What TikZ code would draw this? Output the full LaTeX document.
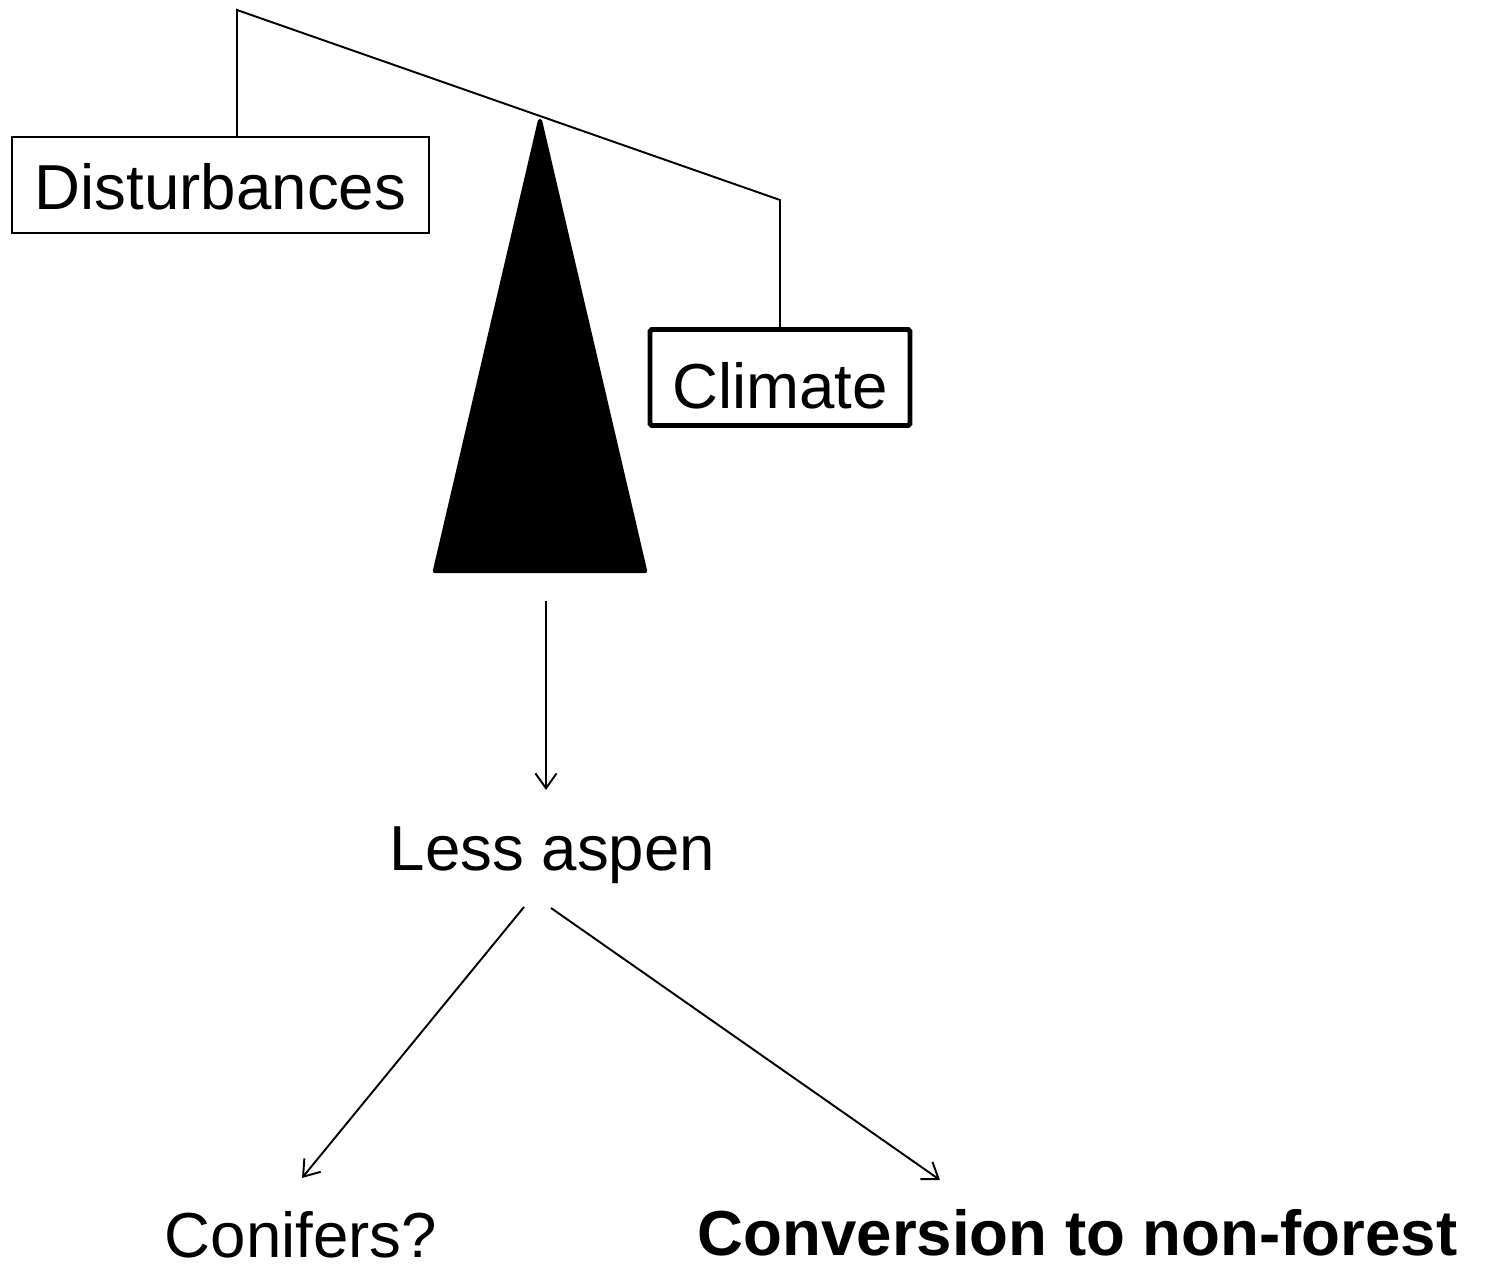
\documentclass[tikz,border=0pt]{standalone}
\usepackage{fontspec}
\setmainfont{Liberation Sans}
\usetikzlibrary{arrows.meta}
\begin{document}
\begin{tikzpicture}[x=0.02cm,y=-0.02cm,
  txt/.style={font=\fontsize{36.2}{43}\selectfont, inner sep=0pt},
  thinline/.style={line width=1.1pt},
  arr/.style={line width=1.1pt, -{Straight Barb[length=8.5pt,width=12pt,line width=1.1pt]}},
  distbox/.style={txt, draw, line width=1.1pt, minimum width=8.34cm, minimum height=1.92cm, text height=28pt, text depth=0pt},
  climbox/.style={txt, draw, line width=2.8pt, rounded corners=1pt, minimum width=5.2cm, minimum height=1.92cm, text height=35pt, text depth=0pt}]
\useasboundingbox (0,0) rectangle (1488,1267);
% boxes
\node[distbox] (dist) at (220.5,185) {Disturbances};
\node[climbox] (clim) at (780,377.5) {Climate};
% beam
\coordinate (b1) at (237,10);
\coordinate (b2) at (780,200);
\draw[thinline, line join=miter] (dist.north -| b1) -- (b1) -- (b2) -- (clim.north);
% fulcrum triangle
\coordinate (t1) at (540,121);
\coordinate (t2) at (645,571);
\coordinate (t3) at (435,571);
\filldraw[line width=2.5pt, line join=round] (t1) -- (t2) -- (t3) -- cycle;
% texts
\node[txt, anchor=base] (less) at (552.5,870) {Less aspen};
\node[txt, anchor=base] (conif) at (301,1257) {Conifers?};
\node[txt, anchor=base, font=\fontsize{36.2}{43}\selectfont\bfseries] (conv) at (1077.5,1255) {Conversion to non-forest};
% arrows
\coordinate (a1s) at (546,601);
\coordinate (a1e) at (546,790);
\draw[arr] (a1s) -- (a1e);
\coordinate (a2s) at (524,907);
\coordinate (a2e) at (302,1178);
\draw[arr] (a2s) -- (a2e);
\coordinate (a3s) at (551,908);
\coordinate (a3e) at (940,1180);
\draw[arr] (a3s) -- (a3e);
\end{tikzpicture}
\end{document}
